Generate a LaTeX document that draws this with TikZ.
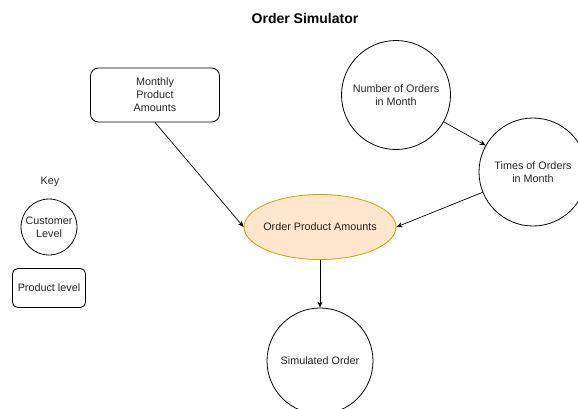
\documentclass[tikz,border=0pt]{standalone}
\usepackage{fontspec}
\setmainfont{Liberation Sans}
\usetikzlibrary{arrows.meta,shapes.geometric}
\definecolor{ellfill}{HTML}{FFE6CC}
\definecolor{elldraw}{HTML}{D79B00}
\tikzset{
  lbl/.style={font=\fontsize{10.8}{13}\selectfont, align=center, text=black!85},
  circ/.style={lbl, circle, draw=black, line width=0.8pt, inner sep=0pt},
  rbox/.style={lbl, draw=black, line width=0.8pt, rounded corners=8pt, inner sep=0pt},
  conn/.style={draw=black, line width=0.7pt, -{Stealth[length=6pt,width=5pt]}}
}
\begin{document}
\begin{tikzpicture}[x=1pt,y=-1pt]
\useasboundingbox (0,0) rectangle (578,408);
\clip (0,0) rectangle (578,408);
\fill[white] (0,0) rectangle (578,408);
\node[font=\fontsize{14}{16}\selectfont\bfseries] (title) at (305,18) {Order Simulator};
\node[rbox, minimum width=129pt, minimum height=54pt] (monthly) at (155,95) {Monthly\\Product\\Amounts};
\node[circ, minimum size=109pt] (num) at (396,95) {Number of Orders\\in Month};
\node[circ, minimum size=108pt] (times) at (533,172) {Times of Orders\\in Month};
\node[lbl, ellipse, draw=elldraw, fill=ellfill, line width=0.8pt, minimum width=152pt, minimum height=65pt, inner xsep=-4pt, inner ysep=0pt] (ell) at (320,227) {Order Product Amounts};
\node[circ, minimum size=106pt] (sim) at (320,361) {Simulated Order};
\node[lbl] (key) at (50,182) {Key};
\node[circ, minimum size=56pt] (cust) at (49,227) {Customer\\Level};
\node[rbox, minimum width=73pt, minimum height=39pt, rounded corners=5pt] (prod) at (49,288) {Product level};
\draw[conn] (monthly.south) -- (ell.west);
\draw[conn] (num) -- (times);
\draw[conn] (times) -- (ell.east);
\draw[conn] (ell) -- (sim);
\end{tikzpicture}
\end{document}
